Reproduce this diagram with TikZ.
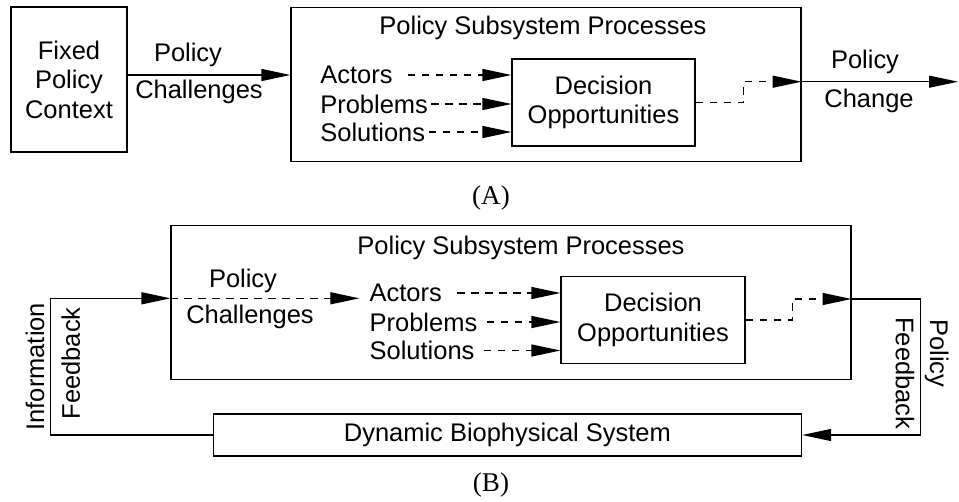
\documentclass[tikz,border=0pt]{standalone}
\usepackage{fontspec}
\setmainfont{Liberation Sans}
\newfontfamily\capfont{Liberation Serif}
\usetikzlibrary{arrows.meta}

\tikzset{
  every node/.style={font=\fontsize{14.5}{16.8}\selectfont},
  box/.style={draw, line width=0.7pt, inner sep=0pt, align=center},
  lbl/.style={inner sep=0pt, align=center},
  arr/.style={line width=0.7pt, -{Triangle[length=0.58cm,width=0.24cm]}},
  darr/.style={arr, dash pattern=on 0.15cm off 0.13cm},
  partlbl/.style={inner sep=0pt, font=\capfont\fontsize{15.4}{17}\selectfont},
}

\begin{document}
\begin{tikzpicture}[x=0.02cm,y=-0.02cm]
        \useasboundingbox (0,0) rectangle (959,501);
        % (A)
        \node[box, minimum width=2.32cm, minimum height=2.9cm] (fixed) at (69,79.5) {Fixed\\Policy\\Context};
        \node[box, minimum width=10.2cm, minimum height=3.09cm] (sysA) at (546,84.5) {};
        \node[lbl] (titleA) at (543,28) {Policy Subsystem Processes};
        \node[box, minimum width=3.66cm, minimum height=1.74cm] (decA) at (603.5,102.5) {Decision\\Opportunities};
        \node[lbl, anchor=west] (actA) at (320,75) {Actors};
        \node[lbl, anchor=west] (probA) at (320,104) {Problems};
        \node[lbl, anchor=west] (solA) at (320,132) {Solutions};
        \draw[darr] ([xshift=0.3cm]actA.east) -- (decA.west |- actA.east);
        \foreach \t in {probA,solA} {
                \draw[darr] ([xshift=0.06cm]\t.east) -- (decA.west |- \t.east);
            }
        \coordinate (inA) at (200,75);
        \draw[arr] (fixed.east |- inA) -- (sysA.west |- inA);
        \node[lbl] (polA) at (188,55) {Policy};
        \node[lbl] (chA) at (199,92) {Challenges};
        \coordinate (outA) at (958,81.7);
        \draw[darr] (decA.east) -- ++(48,0) |- (sysA.east |- outA);
        \draw[arr] (sysA.east |- outA) -- (outA);
        \node[lbl] (polC) at (865,61.7) {Policy};
        \node[lbl] (chgA) at (869,100.7) {Change};
        \node[partlbl] (capA) at (491,198.3) {(A)};
        % (B)
        \node[box, minimum width=13.6cm, minimum height=3.07cm] (sysB) at (511,302.5) {};
        \node[lbl] (titleB) at (521,248.3) {Policy Subsystem Processes};
        \node[box, minimum width=3.68cm, minimum height=1.73cm] (decB) at (653,320) {Decision\\Opportunities};
        \node[lbl, anchor=west] (actB) at (369.3,293) {Actors};
        \node[lbl, anchor=west] (probB) at (369.3,322) {Problems};
        \node[lbl, anchor=west] (solB) at (369.3,350.5) {Solutions};
        \draw[darr] ([xshift=0.3cm]actB.east) -- (decB.west |- actB.east);
        \foreach \t in {probB,solB} {
                \draw[darr] ([xshift=0.18cm]\t.east) -- (decB.west |- \t.east);
            }
        \node[box, minimum width=11.77cm, minimum height=0.84cm] (dynB) at (507.4,435) {Dynamic Biophysical System};
        \coordinate (fbL) at (50.7,298.3);
        \coordinate (pcB) at (359.3,298.3);
        \draw[arr] (dynB.west) -| (fbL) -- (sysB.west |- fbL);
        \draw[darr] (sysB.west |- fbL) -- (pcB);
        \node[lbl] (polB) at (243,280.7) {Policy};
        \node[lbl] (chB) at (250,316.7) {Challenges};
        \node[lbl, rotate=90] (infoB) at (35,366.7) {Information};
        \node[lbl, rotate=90] (fbkL) at (70.7,363.3) {Feedback};
        \coordinate (fbR) at (920.7,299);
        \draw[darr] (decB.east) -- ++(46.7,0) |- (sysB.east |- fbR);
        \draw[arr] (sysB.east |- fbR) -- (fbR) |- (dynB.east);
        \node[lbl, rotate=-90] (polR) at (936.7,353.3) {Policy};
        \node[lbl, rotate=-90] (fbkR) at (905,373.3) {Feedback};
        \node[partlbl] (capB) at (491,485) {(B)};
    \end{tikzpicture}
\end{document}
